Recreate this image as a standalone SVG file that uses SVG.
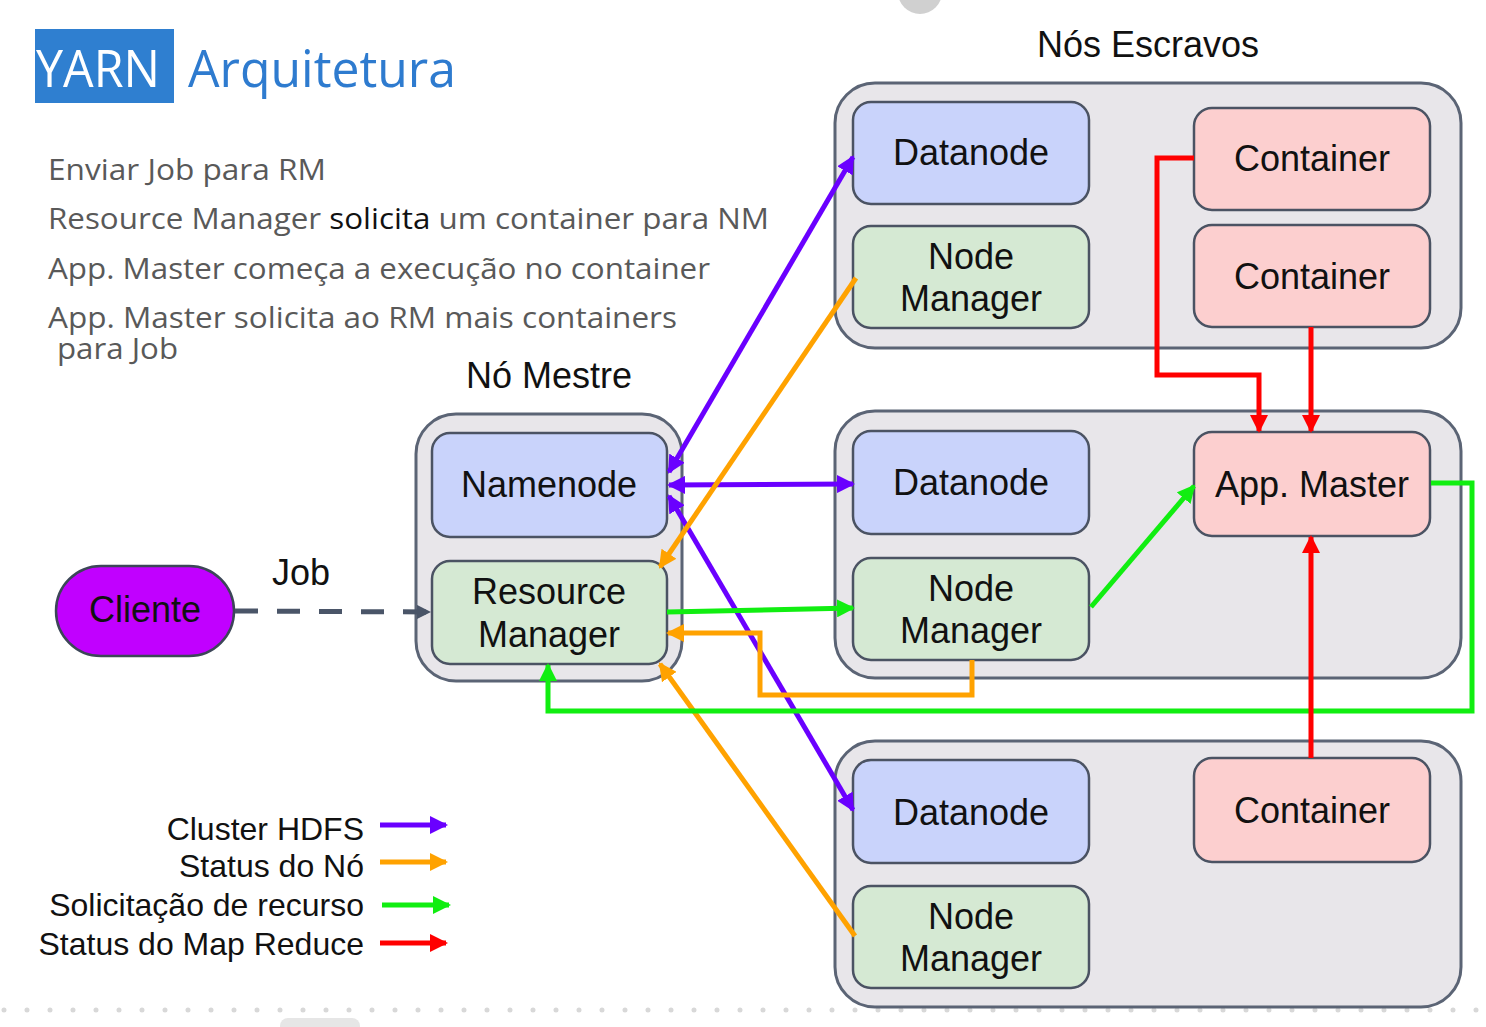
<svg xmlns="http://www.w3.org/2000/svg" width="1486" height="1027" viewBox="0 0 1486 1027">
<style>
.outer{fill:#e8e6ea;stroke:#5b6475;stroke-width:3}
.dn{fill:#c9d3fb;stroke:#4b5363;stroke-width:2.5}
.nm{fill:#d5e9d3;stroke:#4b5363;stroke-width:2.5}
.ct{fill:#fccfcf;stroke:#4b5363;stroke-width:2.5}
.lbl{font-family:"Liberation Sans",Arial,sans-serif;font-size:36px;fill:#111;text-anchor:middle}
.leg{font-family:"Liberation Sans",Arial,sans-serif;font-size:32px;fill:#111;text-anchor:end}
.bul{font-family:"Open Sans","Noto Sans",sans-serif;font-size:29px;fill:#595959}
.c{fill:none;stroke-width:5;stroke-linejoin:miter}
.pu{stroke:#6a00ff}.or{stroke:#ffa200}.gr{stroke:#11ee11}.rd{stroke:#ff0000}
</style>
<defs>
<marker id="mPu" viewBox="0 0 18 18" refX="16" refY="9" markerWidth="18" markerHeight="18" markerUnits="userSpaceOnUse" orient="auto-start-reverse"><path d="M0,0 L18,9 L0,18 z" fill="#6a00ff"/></marker>
<marker id="mOr" viewBox="0 0 18 18" refX="16" refY="9" markerWidth="18" markerHeight="18" markerUnits="userSpaceOnUse" orient="auto-start-reverse"><path d="M0,0 L18,9 L0,18 z" fill="#ffa200"/></marker>
<marker id="mGr" viewBox="0 0 18 18" refX="16" refY="9" markerWidth="18" markerHeight="18" markerUnits="userSpaceOnUse" orient="auto-start-reverse"><path d="M0,0 L18,9 L0,18 z" fill="#11ee11"/></marker>
<marker id="mRd" viewBox="0 0 18 18" refX="16" refY="9" markerWidth="18" markerHeight="18" markerUnits="userSpaceOnUse" orient="auto-start-reverse"><path d="M0,0 L18,9 L0,18 z" fill="#ff0000"/></marker>
<marker id="mDk" viewBox="0 0 14 14" refX="13" refY="7" markerWidth="14" markerHeight="14" markerUnits="userSpaceOnUse" orient="auto"><path d="M0,0 L14,7 L0,14 z" fill="#4a5568"/></marker>
</defs>
<rect width="1486" height="1027" fill="#ffffff"/>
<circle cx="920" cy="-8" r="22" fill="#d0d0d0"/>
<line x1="4" y1="1010" x2="1486" y2="1010" stroke="#d8d8d8" stroke-width="5" stroke-linecap="round" stroke-dasharray="0 23"/>
<rect x="280" y="1018" width="80" height="20" rx="8" fill="#e6e6e6"/>

<g id="title">
<rect x="35" y="29" width="139" height="74" fill="#2f7fd0"/>
<text x="36" y="87" font-family="'Open Sans','Noto Sans',sans-serif" font-size="52" fill="#ffffff" textLength="124" lengthAdjust="spacingAndGlyphs">YARN</text>
<text x="188" y="87" font-family="'Open Sans','Noto Sans',sans-serif" font-size="52" fill="#2e7bcf" textLength="268" lengthAdjust="spacingAndGlyphs">Arquitetura</text>
</g>
<g id="steps">
<text class="bul" x="48" y="180" textLength="278" lengthAdjust="spacingAndGlyphs">Enviar Job para RM</text>
<text class="bul" x="48" y="229" textLength="721" lengthAdjust="spacingAndGlyphs">Resource Manager <tspan fill="#111111">solicita</tspan> um container para NM</text>
<text class="bul" x="48" y="279" textLength="662" lengthAdjust="spacingAndGlyphs">App. Master começa a execução no container</text>
<text class="bul" x="48" y="328" textLength="629" lengthAdjust="spacingAndGlyphs">App. Master solicita ao RM mais containers</text>
<text class="bul" x="57" y="359" textLength="121" lengthAdjust="spacingAndGlyphs">para Job</text>
</g>

<text class="lbl" x="549" y="388">Nó Mestre</text>
<text class="lbl" x="1148" y="57">Nós Escravos</text>

<g id="master">
<rect class="outer" x="416" y="414" width="266" height="267" rx="40"/>
<g id="namenode"><rect class="dn" x="432" y="433" width="235" height="104" rx="18"/><text class="lbl" x="549" y="497">Namenode</text></g>
<g id="resourcemanager"><rect class="nm" x="432" y="561" width="235" height="103" rx="18"/><text class="lbl" x="549" y="604">Resource</text><text class="lbl" x="549" y="647">Manager</text></g>
</g>

<g id="slave1">
<rect class="outer" x="835" y="83" width="626" height="265" rx="40"/>
<g id="datanode1"><rect class="dn" x="853" y="102" width="236" height="102" rx="18"/><text class="lbl" x="971" y="165">Datanode</text></g>
<g id="nodemanager1"><rect class="nm" x="853" y="226" width="236" height="102" rx="18"/><text class="lbl" x="971" y="269">Node</text><text class="lbl" x="971" y="311">Manager</text></g>
<g id="container1"><rect class="ct" x="1194" y="108" width="236" height="102" rx="18"/><text class="lbl" x="1312" y="171">Container</text></g>
<g id="container2"><rect class="ct" x="1194" y="225" width="236" height="102" rx="18"/><text class="lbl" x="1312" y="289">Container</text></g>
</g>

<g id="slave2">
<rect class="outer" x="835" y="411" width="626" height="267" rx="40"/>
<g id="datanode2"><rect class="dn" x="853" y="431" width="236" height="103" rx="18"/><text class="lbl" x="971" y="495">Datanode</text></g>
<g id="nodemanager2"><rect class="nm" x="853" y="558" width="236" height="102" rx="18"/><text class="lbl" x="971" y="601">Node</text><text class="lbl" x="971" y="643">Manager</text></g>
<g id="appmaster"><rect class="ct" x="1194" y="432" width="236" height="104" rx="18"/><text class="lbl" x="1312" y="497">App. Master</text></g>
</g>

<g id="slave3">
<rect class="outer" x="835" y="741" width="626" height="266" rx="40"/>
<g id="datanode3"><rect class="dn" x="853" y="760" width="236" height="103" rx="18"/><text class="lbl" x="971" y="825">Datanode</text></g>
<g id="nodemanager3"><rect class="nm" x="853" y="886" width="236" height="102" rx="18"/><text class="lbl" x="971" y="929">Node</text><text class="lbl" x="971" y="971">Manager</text></g>
<g id="container3"><rect class="ct" x="1194" y="758" width="236" height="104" rx="18"/><text class="lbl" x="1312" y="823">Container</text></g>
</g>

<g id="cliente">
<rect x="56" y="566" width="178" height="90" rx="45" fill="#c100ff" stroke="#3c4658" stroke-width="2.5"/>
<text class="lbl" x="145" y="622" fill="#1a1a2a">Cliente</text>
</g>
<text class="lbl" x="301" y="585">Job</text>

<g id="connectors">
<line x1="235" y1="611" x2="430" y2="612" stroke="#4a5568" stroke-width="5" stroke-dasharray="23 19" marker-end="url(#mDk)"/>
<line class="c pu" x1="669" y1="472" x2="853" y2="157" marker-start="url(#mPu)" marker-end="url(#mPu)"/>
<line class="c pu" x1="669" y1="485" x2="853" y2="484" marker-start="url(#mPu)" marker-end="url(#mPu)"/>
<line class="c pu" x1="669" y1="496" x2="853" y2="810" marker-start="url(#mPu)" marker-end="url(#mPu)"/>
<line class="c or" x1="856" y1="278" x2="660" y2="567" marker-end="url(#mOr)"/>
<polyline class="c or" points="972,660 972,695 760,695 760,633 668,633" marker-end="url(#mOr)"/>
<line class="c or" x1="855" y1="936" x2="660" y2="664" marker-end="url(#mOr)"/>
<line class="c gr" x1="667" y1="612" x2="853" y2="608" marker-end="url(#mGr)"/>
<line class="c gr" x1="1091" y1="607" x2="1194" y2="486" marker-end="url(#mGr)"/>
<polyline class="c gr" points="1431,483 1472,483 1472,711 548,711 548,665" marker-end="url(#mGr)"/>
<polyline class="c rd" points="1194,158 1157,158 1157,375 1259,375 1259,431" marker-end="url(#mRd)"/>
<line class="c rd" x1="1311" y1="327" x2="1311" y2="431" marker-end="url(#mRd)"/>
<line class="c rd" x1="1311" y1="758" x2="1311" y2="537" marker-end="url(#mRd)"/>
</g>

<g id="legend">
<text class="leg" x="364" y="840">Cluster HDFS</text>
<text class="leg" x="364" y="877">Status do Nó</text>
<text class="leg" x="364" y="916">Solicitação de recurso</text>
<text class="leg" x="364" y="955">Status do Map Reduce</text>
<line class="c pu" x1="380" y1="825" x2="446" y2="825" marker-end="url(#mPu)"/>
<line class="c or" x1="380" y1="862" x2="446" y2="862" marker-end="url(#mOr)"/>
<line class="c gr" x1="382" y1="905" x2="449" y2="905" marker-end="url(#mGr)"/>
<line class="c rd" x1="380" y1="943" x2="446" y2="943" marker-end="url(#mRd)"/>
</g>
</svg>
